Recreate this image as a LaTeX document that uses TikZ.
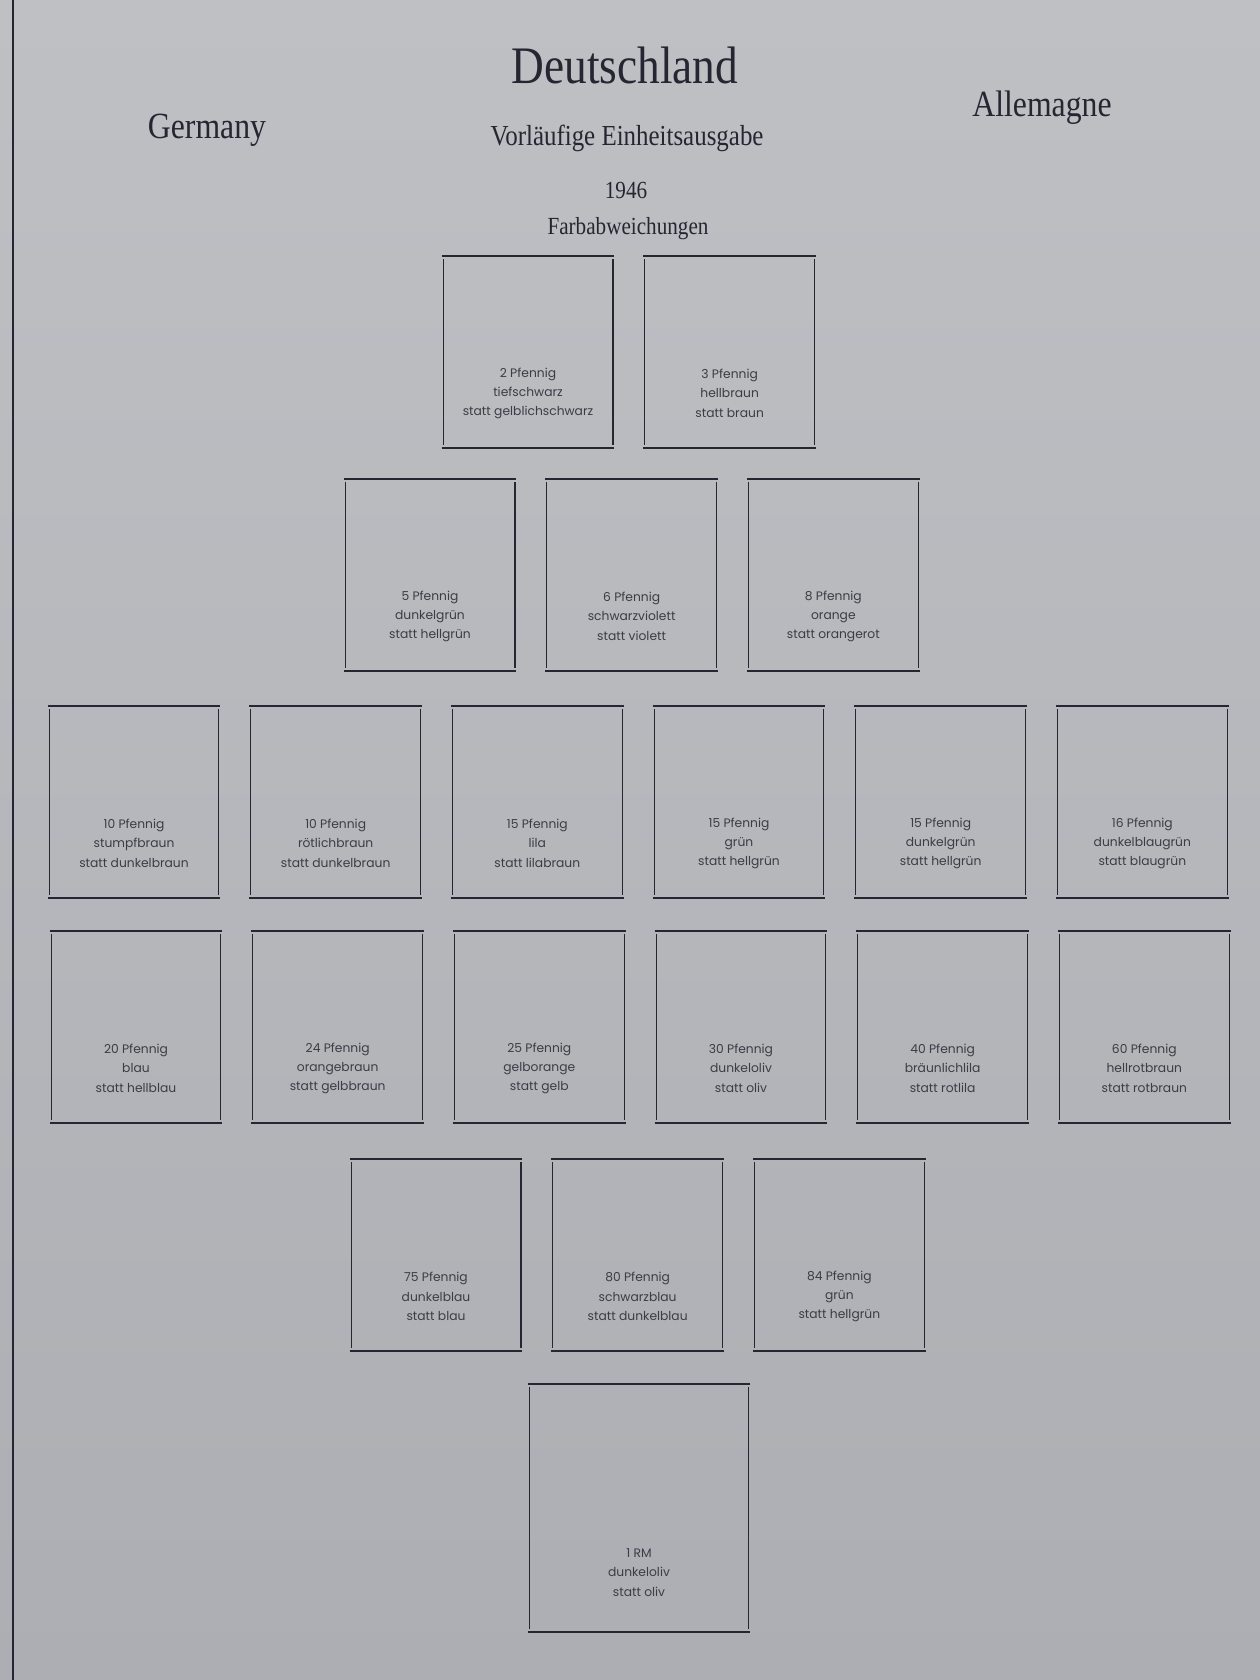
\documentclass[tikz,border=0pt]{standalone}
\usepackage{fontspec}
\setmainfont{Liberation Serif}
\newfontfamily\titlefont{Liberation Serif}[FakeStretch=0.86]
\newfontfamily\labelfont{Poppins}
\usetikzlibrary{%
	calc,%
	positioning,%
}
\definecolor{cpaper}{RGB}{172,174,179}
\definecolor{cpapertop}{RGB}{190,192,196}
\definecolor{cink}{RGB}{38,38,50}
\definecolor{cinklight}{RGB}{60,60,70}
\tikzset{
	nodes={align=center},%
	stamp/.style={%
			rectangle,%
			inner sep=0,%
			minimum width=3.38cm,%
			minimum height=3.84cm},%
	bigstamp/.style={%
			stamp,%
			minimum width=4.36cm,%
			minimum height=4.96cm},%
	stamptext/.style={%
			anchor=center,%
			yshift=1.1cm,%
			text=cinklight,%
			font={\labelfont\fontsize{7}{11}\selectfont}},%
	rim/.style={cink, line width=1.1pt},%
	side/.style={cink, line width=0.75pt},%
	headline/.style={text=cink, inner sep=0},%
}

\begin{document}
\begin{tikzpicture}[x=0.02cm, y=-0.02cm]%
	\shade[top color=cpapertop, bottom color=cpaper] (0,0) rectangle (1260,1680);
	\useasboundingbox (0,0) rectangle (1260,1680);
	\draw[cink, line width=0.9pt] (13,0) -- (13,1680);

	\node[headline, font={\titlefont\fontsize{30}{34}\selectfont}] (land) at (625,65) {Deutschland};
	\node[headline, font={\titlefont\fontsize{21}{25}\selectfont}] (en) at (207,130) {Germany};
	\node[headline, font={\titlefont\fontsize{21}{25}\selectfont}] (fr) at (1042,108) {Allemagne};
	\node[headline, font={\titlefont\fontsize{16.5}{19}\selectfont}] (issue) at (627,138) {Vorläufige Einheitsausgabe};
	\node[headline, font={\titlefont\fontsize{14}{16}\selectfont}] (year) at (626,190) {1946};
	\node[headline, font={\titlefont\fontsize{14}{16}\selectfont}] (sub) at (628,229) {Farbabweichungen};

	% first row
	\node[stamp, label={[stamptext]south:{2 Pfennig\\tiefschwarz\\statt gelblichschwarz}}] (p2) at (528,352) {};
	\node[stamp, right=0.64cm of p2, label={[stamptext]south:{3 Pfennig\\hellbraun\\statt braun}}] (p3) {};

	% second row
	\node[stamp, label={[stamptext]south:{5 Pfennig\\dunkelgrün\\statt hellgrün}}] (p5) at (430,575) {};
	\node[stamp, right=0.64cm of p5, label={[stamptext]south:{6 Pfennig\\schwarzviolett\\statt violett}}] (p6) {};
	\node[stamp, right=0.64cm of p6, label={[stamptext]south:{8 Pfennig\\orange\\statt orangerot}}] (p8) {};

	% third row
	\node[stamp, label={[stamptext]south:{10 Pfennig\\stumpfbraun\\statt dunkelbraun}}] (p10a) at (134,802) {};
	\node[stamp, right=0.64cm of p10a, label={[stamptext]south:{10 Pfennig\\rötlichbraun\\statt dunkelbraun}}] (p10b) {};
	\node[stamp, right=0.64cm of p10b, label={[stamptext]south:{15 Pfennig\\lila\\statt lilabraun}}] (p15a) {};
	\node[stamp, right=0.64cm of p15a, label={[stamptext]south:{15 Pfennig\\grün\\statt hellgrün}}] (p15b) {};
	\node[stamp, right=0.64cm of p15b, label={[stamptext]south:{15 Pfennig\\dunkelgrün\\statt hellgrün}}] (p15c) {};
	\node[stamp, right=0.64cm of p15c, label={[stamptext]south:{16 Pfennig\\dunkelblaugrün\\statt blaugrün}}] (p16) {};

	% fourth row
	\node[stamp, label={[stamptext]south:{20 Pfennig\\blau\\statt hellblau}}] (p20) at (136,1027) {};
	\node[stamp, right=0.64cm of p20, label={[stamptext]south:{24 Pfennig\\orangebraun\\statt gelbbraun}}] (p24) {};
	\node[stamp, right=0.64cm of p24, label={[stamptext]south:{25 Pfennig\\gelborange\\statt gelb}}] (p25) {};
	\node[stamp, right=0.64cm of p25, label={[stamptext]south:{30 Pfennig\\dunkeloliv\\statt oliv}}] (p30) {};
	\node[stamp, right=0.64cm of p30, label={[stamptext]south:{40 Pfennig\\bräunlichlila\\statt rotlila}}] (p40) {};
	\node[stamp, right=0.64cm of p40, label={[stamptext]south:{60 Pfennig\\hellrotbraun\\statt rotbraun}}] (p60) {};

	% fifth row
	\node[stamp, label={[stamptext]south:{75 Pfennig\\dunkelblau\\statt blau}}] (p75) at (436,1255) {};
	\node[stamp, right=0.64cm of p75, label={[stamptext]south:{80 Pfennig\\schwarzblau\\statt dunkelblau}}] (p80) {};
	\node[stamp, right=0.64cm of p80, label={[stamptext]south:{84 Pfennig\\grün\\statt hellgrün}}] (p84) {};

	% mark value
	\node[bigstamp, label={[stamptext, yshift=0.1cm]south:{1 RM\\dunkeloliv\\statt oliv}}] (rm1) at (639,1508) {};

	\foreach \s in {p2,p3,p5,p6,p8,p10a,p10b,p15a,p15b,p15c,p16,p20,p24,p25,p30,p40,p60,p75,p80,p84,rm1} {
		\draw[rim] ($(\s.north west)+(-0.03cm,0)$) -- ($(\s.north east)+(0.03cm,0)$);
		\draw[rim] ($(\s.south west)+(-0.03cm,0)$) -- ($(\s.south east)+(0.03cm,0)$);
		\draw[side] ($(\s.north west)+(0,-0.07cm)$) -- ($(\s.south west)+(0,0.07cm)$);
		\draw[side] ($(\s.north east)+(0,-0.07cm)$) -- ($(\s.south east)+(0,0.07cm)$);
	}
\end{tikzpicture}
\end{document}
